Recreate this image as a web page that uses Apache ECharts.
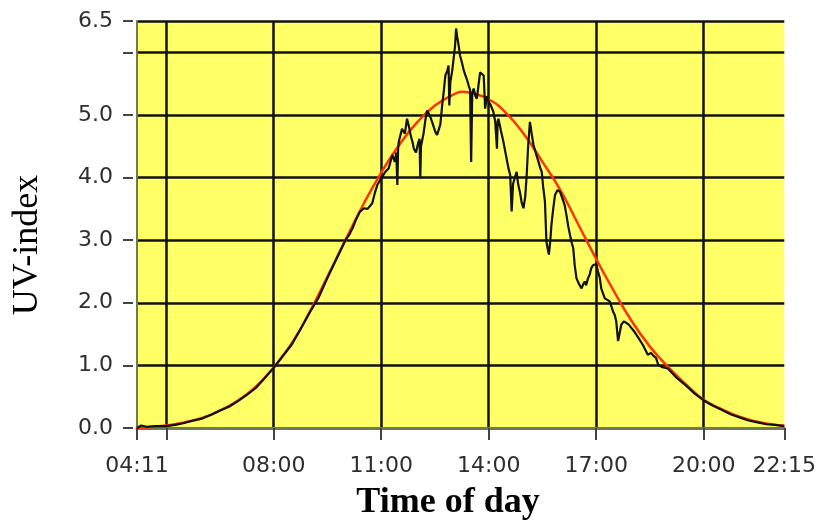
<!DOCTYPE html>
<html>
<head>
<meta charset="utf-8">
<script src="https://cdn.jsdelivr.net/npm/echarts@6/dist/echarts.min.js"></script>
<style>
  html, body { margin: 0; padding: 0; background: #fff; }
  #chart { width: 819px; height: 527px; }
</style>
</head>
<body>
<div id="chart"></div>
<script>
// time of day in decimal hours, 04:11 .. 22:15
const START = 4 + 11 / 60;
const END = 22.25;

// clear-sky model curve (red)
const modelTime = [START, 5, 5.5, 6, 6.5, 7, 7.5, 8, 8.5, 9, 9.5, 10, 10.5, 11, 11.5, 12, 12.5, 13, 13.25, 13.5, 14, 14.5, 15, 15.5, 16, 16.5, 17, 17.5, 18, 18.5, 19, 19.5, 20, 20.5, 21, 21.5, 22, END];
const modelUV = [0.0, 0.04, 0.09, 0.16, 0.28, 0.44, 0.66, 0.97, 1.35, 1.85, 2.42, 3.0, 3.57, 4.08, 4.52, 4.88, 5.15, 5.32, 5.37, 5.35, 5.25, 5.02, 4.68, 4.25, 3.80, 3.25, 2.70, 2.18, 1.70, 1.30, 0.98, 0.70, 0.45, 0.30, 0.18, 0.10, 0.05, 0.04];

// measured UV-index (black)
const measTime = [
  START, 4.3, 4.45, 4.7, 5.0, 5.25, 5.5, 5.75, 6.0, 6.25, 6.5, 6.75, 7.0, 7.25, 7.5, 7.75, 8.0, 8.25, 8.5, 8.75,
  9.0, 9.25, 9.5, 9.75, 10.0, 10.1, 10.2, 10.29, 10.4, 10.52, 10.62, 10.75, 10.82, 10.89, 10.96, 11.03, 11.1, 11.21, 11.31, 11.38,
  11.42, 11.45, 11.47, 11.49, 11.58, 11.66, 11.72, 11.78, 11.82, 11.88, 11.91, 11.97, 12.03, 12.07, 12.09, 12.11, 12.18, 12.24, 12.28, 12.35,
  12.42, 12.47, 12.51, 12.56, 12.6, 12.65, 12.7, 12.75, 12.79, 12.84, 12.88, 12.9, 12.93, 12.98, 13.02, 13.06, 13.09, 13.12, 13.16, 13.2,
  13.25, 13.3, 13.35, 13.4, 13.44, 13.48, 13.51, 13.54, 13.58, 13.63, 13.67, 13.72, 13.76, 13.81, 13.86, 13.9, 13.95, 14.0, 14.06, 14.13,
  14.18, 14.23, 14.25, 14.27, 14.34, 14.41, 14.45, 14.5, 14.55, 14.6, 14.64, 14.68, 14.73, 14.78, 14.82, 14.87, 14.92, 14.97, 15.02, 15.06,
  15.1, 15.15, 15.2, 15.25, 15.32, 15.39, 15.44, 15.48, 15.52, 15.57, 15.61, 15.65, 15.68, 15.72, 15.75, 15.8, 15.85, 15.92, 15.99, 16.05,
  16.12, 16.17, 16.22, 16.27, 16.32, 16.36, 16.4, 16.45, 16.52, 16.59, 16.64, 16.68, 16.72, 16.77, 16.82, 16.86, 16.91, 16.96, 17.0, 17.05,
  17.1, 17.14, 17.19, 17.24, 17.3, 17.38, 17.42, 17.47, 17.52, 17.56, 17.61, 17.65, 17.7, 17.77, 17.84, 17.91, 17.98, 18.05, 18.12, 18.2,
  18.3, 18.37, 18.44, 18.53, 18.6, 18.67, 18.73, 18.85, 19.0, 19.25, 19.5, 19.75, 20.0, 20.25, 20.5, 20.75, 21.0, 21.25, 21.5, 21.75,
  22.0, END
];
const measUV = [
  0.0, 0.04, 0.02, 0.03, 0.03, 0.05, 0.08, 0.12, 0.15, 0.21, 0.28, 0.34, 0.43, 0.53, 0.64, 0.80, 0.96, 1.15, 1.33, 1.58,
  1.84, 2.08, 2.40, 2.70, 3.00, 3.08, 3.19, 3.32, 3.45, 3.51, 3.50, 3.59, 3.75, 3.88, 3.95, 4.01, 4.08, 4.15, 4.36, 4.25,
  4.40, 3.88, 4.45, 4.57, 4.78, 4.70, 4.94, 4.80, 4.68, 4.55, 4.46, 4.40, 4.55, 4.62, 3.99, 4.50, 4.70, 4.95, 5.07, 5.00,
  4.89, 4.80, 4.73, 4.68, 4.65, 4.85, 5.15, 5.40, 5.63, 5.70, 5.79, 5.15, 5.53, 5.70, 5.90, 6.10, 6.38, 6.25, 6.11, 5.95,
  5.84, 5.72, 5.63, 5.55, 5.47, 5.40, 4.25, 5.35, 5.42, 5.30, 5.26, 5.50, 5.68, 5.70, 5.63, 5.10, 5.30, 5.21, 5.15, 5.05,
  4.90, 4.46, 4.90, 4.94, 4.75, 4.57, 4.45, 4.30, 4.15, 4.04, 3.46, 3.90, 4.00, 4.09, 3.90, 3.77, 3.60, 3.51, 3.70, 4.04,
  4.50, 4.89, 4.70, 4.52, 4.38, 4.25, 4.15, 4.09, 3.85, 3.61, 2.98, 2.85, 2.77, 3.00, 3.24, 3.50, 3.72, 3.80, 3.77, 3.68,
  3.56, 3.40, 3.22, 3.08, 2.95, 2.87, 2.60, 2.39, 2.30, 2.23, 2.30, 2.34, 2.28, 2.39, 2.45, 2.55, 2.60, 2.58, 2.62, 2.50,
  2.40, 2.23, 2.15, 2.07, 2.05, 2.02, 1.95, 1.86, 1.80, 1.70, 1.39, 1.50, 1.65, 1.70, 1.68, 1.65, 1.60, 1.55, 1.49, 1.42,
  1.33, 1.25, 1.17, 1.20, 1.15, 1.12, 1.01, 0.97, 0.95, 0.80, 0.68, 0.55, 0.44, 0.36, 0.29, 0.22, 0.17, 0.12, 0.09, 0.06,
  0.05, 0.03
];

// axis ticks
const xTickValues = [START, 5, 8, 11, 14, 17, 20, END];
const xLabelValues = [START, 8, 11, 14, 17, 20, END];
const xGridValues = [5, 8, 11, 14, 17, 20];
const yTickValues = [0, 1, 2, 3, 4, 5, 6, 6.5];
const yLabelValues = [0, 1, 2, 3, 4, 5, 6.5];

const pad = (n) => String(n).padStart(2, '0');
const hhmm = (v) => {
  const m = Math.round(v * 60);
  return pad(Math.floor(m / 60)) + ':' + pad(m % 60);
};

const chart = echarts.init(document.getElementById('chart'), null, { renderer: 'canvas' });

const labelFont = { color: '#2e2e2e', fontFamily: 'DejaVu Sans', fontSize: 22 };
const borderColor = '#6e7a52';
const gridLine = { color: '#111', width: 2.5 };

chart.setOption({
  animation: false,
  backgroundColor: '#ffffff',
  grid: {
    left: 137, right: 32, top: 21, bottom: 99,
    show: true,
    backgroundColor: '#ffff66',
    borderWidth: 0
  },
  xAxis: [
    {
      type: 'value', min: START, max: END, offset: 5,
      axisLine: { show: false },
      axisTick: { show: true, length: 12, customValues: xTickValues, lineStyle: { color: '#444', width: 2 } },
      axisLabel: { customValues: xLabelValues, formatter: hhmm, margin: 22, ...labelFont },
      splitLine: { show: false }
    },
    {
      // top border + vertical grid lines
      type: 'value', min: START, max: END, position: 'top',
      axisLine: { show: true, lineStyle: { color: borderColor, width: 3 } },
      axisTick: { show: false, customValues: xGridValues },
      axisLabel: { show: false },
      splitLine: { show: true, lineStyle: gridLine }
    }
  ],
  yAxis: [
    {
      type: 'value', min: 0, max: 6.5, offset: 4,
      axisLine: { show: false },
      axisTick: { show: true, length: 10, customValues: yTickValues, lineStyle: { color: '#444', width: 2 } },
      axisLabel: { customValues: yLabelValues, formatter: (v) => v.toFixed(1), margin: 20, ...labelFont },
      splitLine: { show: true, lineStyle: gridLine }
    },
    {
      // left border
      type: 'value', min: 0, max: 6.5, position: 'left',
      axisLine: { show: true, lineStyle: { color: borderColor, width: 2 } },
      axisTick: { show: false },
      axisLabel: { show: false },
      splitLine: { show: false }
    }
  ],
  graphic: [
    {
      type: 'text', x: 28, y: 245, rotation: Math.PI / 2,
      style: {
        text: 'UV-index', fill: '#000', textAlign: 'center', textVerticalAlign: 'middle',
        font: '36px "Liberation Serif", "Times New Roman", serif'
      }
    },
    {
      type: 'text', x: 448, y: 503,
      style: {
        text: 'Time of day', fill: '#000', textAlign: 'center', textVerticalAlign: 'middle',
        font: 'bold 36px "Liberation Serif", "Times New Roman", serif'
      }
    }
  ],
  series: [
    {
      name: 'model',
      type: 'line',
      smooth: true,
      symbol: 'none',
      data: modelTime.map((t, i) => [t, modelUV[i]]),
      lineStyle: { color: '#ff3300', width: 2.5 },
      z: 3
    },
    {
      name: 'measured',
      type: 'line',
      symbol: 'none',
      data: measTime.map((t, i) => [t, measUV[i]]),
      lineStyle: { color: '#111', width: 2.2 },
      z: 4
    }
  ]
});
</script>
</body>
</html>
